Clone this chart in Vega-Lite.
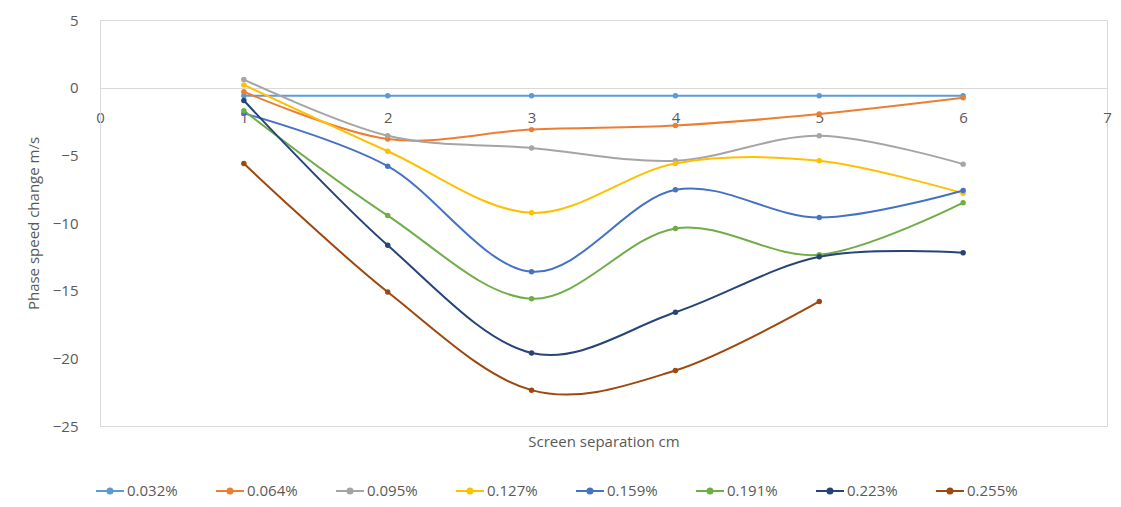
{
  "$schema": "https://vega.github.io/schema/vega-lite/v6.json",
  "width": 1007,
  "height": 406,
  "autosize": {"type": "none"},
  "padding": {"left": 100, "top": 20, "right": 14, "bottom": 81},
  "background": "white",
  "config": {"view": {"stroke": "#d9d9d9", "strokeWidth": 1}, "font": "Open Sans"},
  "data": {"values": [
    {"series": "0.032%", "sep": 1, "v": -0.6},
    {"series": "0.032%", "sep": 2, "v": -0.6},
    {"series": "0.032%", "sep": 3, "v": -0.6},
    {"series": "0.032%", "sep": 4, "v": -0.6},
    {"series": "0.032%", "sep": 5, "v": -0.6},
    {"series": "0.032%", "sep": 6, "v": -0.6},
    {"series": "0.064%", "sep": 1, "v": -0.3},
    {"series": "0.064%", "sep": 2, "v": -3.8},
    {"series": "0.064%", "sep": 3, "v": -3.1},
    {"series": "0.064%", "sep": 4, "v": -2.8},
    {"series": "0.064%", "sep": 5, "v": -1.95},
    {"series": "0.064%", "sep": 6, "v": -0.75},
    {"series": "0.095%", "sep": 1, "v": 0.6},
    {"series": "0.095%", "sep": 2, "v": -3.55},
    {"series": "0.095%", "sep": 3, "v": -4.45},
    {"series": "0.095%", "sep": 4, "v": -5.4},
    {"series": "0.095%", "sep": 5, "v": -3.55},
    {"series": "0.095%", "sep": 6, "v": -5.65},
    {"series": "0.127%", "sep": 1, "v": 0.2},
    {"series": "0.127%", "sep": 2, "v": -4.7},
    {"series": "0.127%", "sep": 3, "v": -9.25},
    {"series": "0.127%", "sep": 4, "v": -5.6},
    {"series": "0.127%", "sep": 5, "v": -5.4},
    {"series": "0.127%", "sep": 6, "v": -7.8},
    {"series": "0.159%", "sep": 1, "v": -1.9},
    {"series": "0.159%", "sep": 2, "v": -5.8},
    {"series": "0.159%", "sep": 3, "v": -13.6},
    {"series": "0.159%", "sep": 4, "v": -7.55},
    {"series": "0.159%", "sep": 5, "v": -9.6},
    {"series": "0.159%", "sep": 6, "v": -7.6},
    {"series": "0.191%", "sep": 1, "v": -1.7},
    {"series": "0.191%", "sep": 2, "v": -9.45},
    {"series": "0.191%", "sep": 3, "v": -15.6},
    {"series": "0.191%", "sep": 4, "v": -10.4},
    {"series": "0.191%", "sep": 5, "v": -12.35},
    {"series": "0.191%", "sep": 6, "v": -8.5},
    {"series": "0.223%", "sep": 1, "v": -0.95},
    {"series": "0.223%", "sep": 2, "v": -11.65},
    {"series": "0.223%", "sep": 3, "v": -19.6},
    {"series": "0.223%", "sep": 4, "v": -16.6},
    {"series": "0.223%", "sep": 5, "v": -12.5},
    {"series": "0.223%", "sep": 6, "v": -12.2},
    {"series": "0.255%", "sep": 1, "v": -5.6},
    {"series": "0.255%", "sep": 2, "v": -15.1},
    {"series": "0.255%", "sep": 3, "v": -22.35},
    {"series": "0.255%", "sep": 4, "v": -20.9},
    {"series": "0.255%", "sep": 5, "v": -15.8}
  ]},
  "encoding": {
    "x": {
      "field": "sep", "type": "quantitative",
      "scale": {"domain": [0, 7], "nice": false, "zero": false},
      "axis": {
        "title": "Screen separation cm",
        "values": [0, 1, 2, 3, 4, 5, 6, 7],
        "offset": -338,
        "ticks": false, "grid": false,
        "domainColor": "#d9d9d9", "domainWidth": 1,
        "labelColor": "#595959", "labelFontSize": 15, "labelPadding": 22, "labelFlush": false,
        "titleColor": "#595959", "titleFontSize": 15, "titleFontWeight": "normal",
        "titleY": 353, "titleBaseline": "middle"
      }
    },
    "y": {
      "field": "v", "type": "quantitative",
      "scale": {"domain": [-25, 5], "nice": false, "zero": false},
      "axis": {
        "title": "Phase speed change m/s",
        "values": [5, 0, -5, -10, -15, -20, -25],
        "ticks": false, "grid": false,
        "domainColor": "#d9d9d9", "domainWidth": 1,
        "labelColor": "#595959", "labelFontSize": 15, "labelPadding": 22,
        "titleColor": "#595959", "titleFontSize": 15, "titleFontWeight": "normal",
        "titleX": -67, "titleY": 203, "titleAngle": -90, "titleAlign": "center", "titleBaseline": "middle"
      }
    },
    "color": {
      "field": "series", "type": "nominal",
      "scale": {
        "domain": ["0.032%", "0.064%", "0.095%", "0.127%", "0.159%", "0.191%", "0.223%", "0.255%"],
        "range": ["#5B9BD5", "#ED7D31", "#A5A5A5", "#FFC000", "#4472C4", "#70AD47", "#264478", "#9E480E"]
      },
      "legend": {
        "title": null,
        "orient": "none",
        "legendX": -5,
        "legendY": 456,
        "direction": "horizontal",
        "columns": 8,
        "symbolType": "M-1,0H1M-0.18,0A0.18,0.18,0,1,1,0.18,0A0.18,0.18,0,1,1,-0.18,0Z",
        "symbolSize": 784,
        "symbolStrokeWidth": 2,
        "labelFontSize": 15,
        "labelColor": "#595959",
        "labelOffset": 2,
        "columnPadding": 34
      }
    }
  },
  "layer": [
    {"mark": {"type": "line", "interpolate": "cardinal", "strokeWidth": 2}},
    {"mark": {"type": "point", "filled": true, "size": 30, "opacity": 1}}
  ]
}
